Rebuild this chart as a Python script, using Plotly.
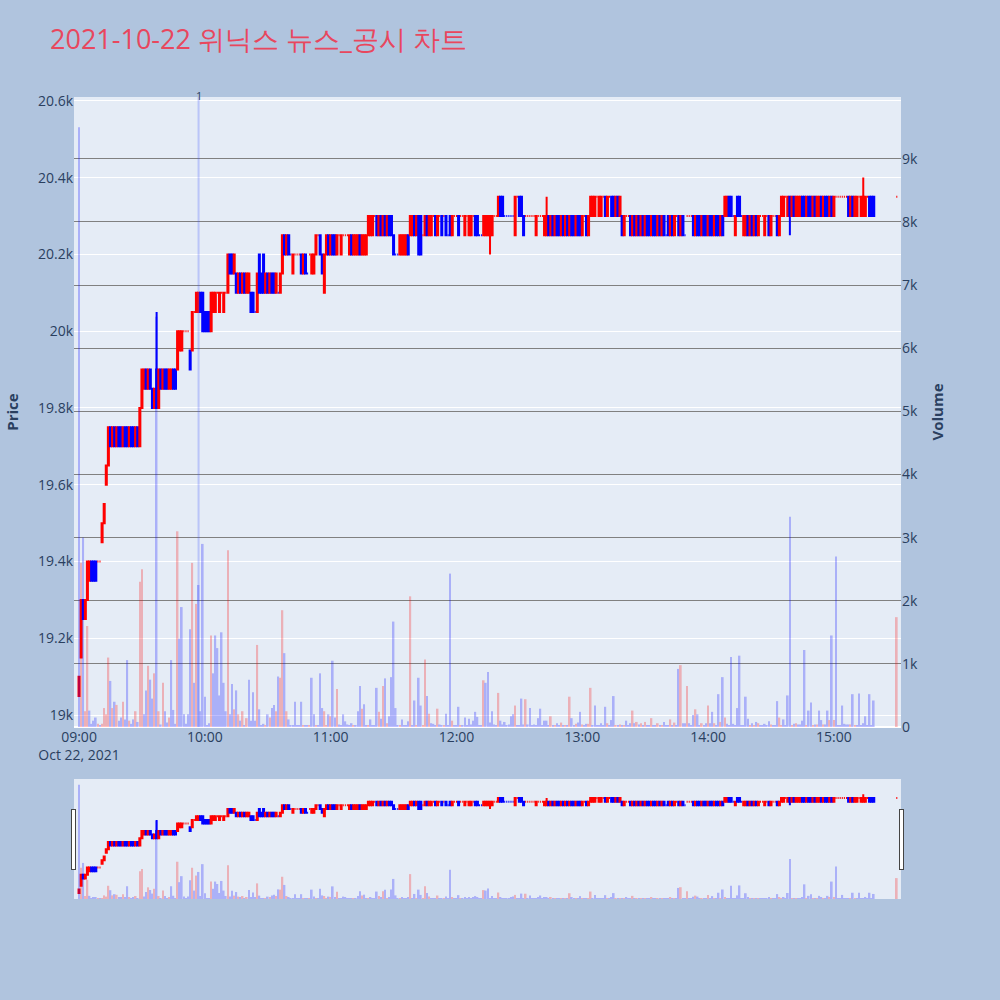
import pandas as pd
import plotly.graph_objects as go

# 1-minute candles, 2021-10-22 (minutes after 09:00)
minutes = list(range(380)) + [390]

opens = [
    19050, 19150, 19300, 19250, 19300, 19350, 19400, 19400, 19400, 19400,
    19400, 19450, 19500, 19600, 19650, 19750, 19700, 19750, 19700, 19750,
    19750, 19700, 19750, 19750, 19700, 19750, 19750, 19700, 19750, 19700,
    19800, 19850, 19900, 19850, 19900, 19850, 19800, 19900, 19800, 19900,
    19850, 19900, 19900, 19850, 19850, 19900, 19900, 19900, 19950, 19950,
    20000, 20000, 20000, 19950, 19950, 20050, 20050, 20050, 20100, 20100,
    20050, 20050, 20050, 20000, 20050, 20050, 20100, 20050, 20100, 20050,
    20100, 20100, 20200, 20200, 20150, 20150, 20100, 20150, 20100, 20150,
    20100, 20100, 20100, 20100, 20050, 20050, 20200, 20150, 20200, 20100,
    20150, 20100, 20150, 20150, 20100, 20100, 20100, 20150, 20250, 20200,
    20250, 20200, 20150, 20200, 20200, 20200, 20200, 20150, 20200, 20150,
    20200, 20150, 20150, 20200, 20250, 20250, 20200, 20100, 20200, 20250,
    20200, 20250, 20250, 20200, 20250, 20200, 20250, 20250, 20250, 20200,
    20250, 20200, 20200, 20200, 20250, 20200, 20200, 20200, 20250, 20250,
    20250, 20300, 20300, 20250, 20300, 20250, 20300, 20250, 20300, 20300,
    20250, 20200, 20200, 20200, 20200, 20200, 20200, 20250, 20250, 20250,
    20300, 20250, 20300, 20300, 20250, 20250, 20300, 20250, 20250, 20300,
    20300, 20250, 20300, 20300, 20300, 20300, 20250, 20300, 20250, 20300,
    20300, 20300, 20300, 20300, 20250, 20300, 20250, 20250, 20300, 20300,
    20300, 20250, 20250, 20250, 20250, 20250, 20250, 20250, 20300, 20300,
    20300, 20350, 20350, 20300, 20300, 20300, 20300, 20300, 20250, 20350,
    20350, 20350, 20300, 20300, 20300, 20300, 20300, 20300, 20250, 20300,
    20300, 20300, 20250, 20250, 20300, 20250, 20300, 20250, 20300, 20300,
    20250, 20300, 20250, 20300, 20250, 20300, 20300, 20250, 20300, 20300,
    20250, 20300, 20300, 20250, 20300, 20300, 20300, 20350, 20300, 20300,
    20350, 20350, 20300, 20350, 20350, 20350, 20300, 20350, 20300, 20300,
    20250, 20300, 20300, 20300, 20250, 20300, 20250, 20300, 20250, 20300,
    20250, 20300, 20300, 20250, 20300, 20300, 20250, 20300, 20250, 20300,
    20250, 20300, 20250, 20300, 20250, 20300, 20300, 20250, 20300, 20250,
    20300, 20300, 20300, 20300, 20250, 20300, 20300, 20250, 20300, 20300,
    20250, 20300, 20300, 20250, 20300, 20300, 20250, 20300, 20300, 20300,
    20350, 20350, 20300, 20250, 20350, 20350, 20300, 20250, 20250, 20300,
    20250, 20300, 20250, 20300, 20250, 20300, 20300, 20250, 20300, 20300,
    20250, 20300, 20300, 20300, 20250, 20300, 20300, 20350, 20300, 20350,
    20300, 20350, 20300, 20300, 20300, 20350, 20350, 20300, 20350, 20350,
    20300, 20350, 20300, 20300, 20350, 20300, 20350, 20350, 20300, 20350,
    20300, 20350, 20350, 20350, 20350, 20350, 20350, 20350, 20300, 20350,
    20300, 20300, 20350, 20300, 20300, 20300, 20350, 20350, 20350, 20350,
    20350,
]

closes = [
    19100, 19300, 19250, 19300, 19400, 19400, 19350, 19350, 19350, 19400,
    19400, 19500, 19550, 19650, 19750, 19700, 19750, 19700, 19750, 19700,
    19700, 19750, 19700, 19700, 19750, 19700, 19700, 19750, 19700, 19800,
    19900, 19900, 19850, 19900, 19850, 19800, 19850, 19800, 19900, 19850,
    19900, 19850, 19850, 19900, 19900, 19850, 19850, 20000, 20000, 20000,
    20000, 20000, 20000, 19900, 20050, 20050, 20100, 20100, 20050, 20000,
    20000, 20000, 20000, 20100, 20100, 20100, 20100, 20100, 20100, 20100,
    20100, 20200, 20150, 20150, 20200, 20100, 20150, 20100, 20150, 20100,
    20150, 20150, 20050, 20050, 20050, 20150, 20100, 20100, 20100, 20150,
    20100, 20150, 20100, 20100, 20150, 20100, 20150, 20250, 20200, 20250,
    20200, 20200, 20200, 20200, 20200, 20200, 20150, 20200, 20150, 20150,
    20200, 20200, 20200, 20250, 20250, 20200, 20150, 20200, 20250, 20200,
    20250, 20200, 20200, 20250, 20250, 20250, 20250, 20250, 20250, 20250,
    20200, 20250, 20250, 20250, 20200, 20250, 20250, 20250, 20300, 20300,
    20300, 20300, 20250, 20300, 20250, 20300, 20250, 20300, 20250, 20250,
    20200, 20200, 20200, 20250, 20250, 20250, 20250, 20200, 20300, 20300,
    20250, 20300, 20200, 20200, 20250, 20300, 20250, 20300, 20300, 20300,
    20250, 20300, 20300, 20250, 20300, 20250, 20250, 20250, 20300, 20300,
    20300, 20250, 20300, 20300, 20300, 20300, 20300, 20300, 20300, 20250,
    20250, 20250, 20250, 20300, 20300, 20300, 20300, 20300, 20300, 20300,
    20350, 20300, 20300, 20300, 20300, 20300, 20300, 20300, 20350, 20350,
    20300, 20300, 20250, 20300, 20300, 20300, 20300, 20300, 20300, 20300,
    20300, 20300, 20300, 20300, 20250, 20300, 20250, 20300, 20250, 20250,
    20300, 20250, 20300, 20250, 20300, 20250, 20250, 20300, 20250, 20250,
    20300, 20300, 20250, 20300, 20350, 20350, 20350, 20350, 20350, 20350,
    20350, 20300, 20350, 20350, 20300, 20300, 20350, 20300, 20350, 20250,
    20300, 20300, 20300, 20250, 20300, 20250, 20300, 20250, 20300, 20250,
    20300, 20250, 20250, 20300, 20250, 20250, 20300, 20250, 20300, 20250,
    20250, 20250, 20300, 20250, 20300, 20300, 20250, 20300, 20250, 20250,
    20300, 20300, 20300, 20250, 20300, 20250, 20250, 20300, 20250, 20250,
    20300, 20250, 20250, 20300, 20250, 20250, 20300, 20250, 20350, 20350,
    20300, 20300, 20300, 20300, 20300, 20300, 20300, 20300, 20300, 20250,
    20300, 20250, 20300, 20250, 20300, 20300, 20300, 20300, 20300, 20250,
    20300, 20300, 20300, 20250, 20300, 20350, 20350, 20350, 20350, 20300,
    20350, 20300, 20350, 20350, 20350, 20300, 20300, 20350, 20300, 20300,
    20350, 20300, 20350, 20350, 20300, 20350, 20300, 20300, 20350, 20300,
    20350, 20350, 20350, 20350, 20350, 20350, 20350, 20300, 20350, 20300,
    20350, 20350, 20350, 20350, 20350, 20350, 20350, 20300, 20300, 20300,
    20350,
]

# wicks that stick out past the body (minute -> price)
wick_highs = {37: 20050, 223: 20350, 374: 20400}
wick_lows = {196: 20200, 339: 20250}

volumes = [
    9500, 2600, 3000, 250, 1600, 260, 50, 100, 150, 50,
    30, 50, 300, 200, 1100, 730, 300, 400, 350, 100,
    150, 400, 120, 1060, 100, 50, 120, 250, 80, 2300,
    2500, 200, 580, 970, 750, 450, 850, 6500, 250, 40,
    700, 250, 70, 150, 1060, 270, 50, 3100, 1400, 1900,
    200, 50, 200, 1550, 2600, 700, 1950, 2250, 250, 2900,
    480, 30, 60, 1450, 850, 1450, 1250, 500, 1500, 700,
    250, 2800, 200, 680, 280, 580, 200, 100, 250, 20,
    140, 750, 100, 550, 100, 1300, 280, 20, 50, 30,
    200, 150, 300, 350, 250, 800, 780, 1850, 1170, 250,
    120, 30, 30, 400, 30, 20, 400, 30, 30, 20,
    30, 780, 200, 30, 30, 850, 300, 250, 30, 200,
    170, 1050, 150, 600, 40, 30, 200, 90, 40, 30,
    60, 30, 30, 250, 650, 290, 360, 30, 30, 120,
    30, 30, 620, 240, 130, 650, 770, 60, 170, 790,
    1670, 300, 30, 30, 120, 30, 30, 90, 2070, 30,
    420, 30, 780, 340, 30, 1070, 490, 210, 60, 50,
    30, 290, 40, 30, 20, 210, 30, 2430, 100, 30,
    20, 320, 30, 20, 150, 20, 130, 40, 100, 240,
    160, 20, 20, 740, 700, 870, 70, 250, 40, 30,
    540, 100, 40, 80, 20, 40, 170, 200, 340, 30,
    30, 450, 40, 440, 40, 300, 20, 40, 20, 140,
    290, 20, 100, 100, 20, 170, 30, 20, 60, 20,
    70, 20, 20, 20, 480, 140, 20, 50, 70, 240,
    40, 20, 50, 50, 620, 30, 340, 20, 20, 60,
    20, 320, 60, 20, 110, 490, 30, 20, 40, 30,
    20, 100, 20, 60, 260, 60, 80, 40, 60, 30,
    80, 20, 30, 140, 30, 30, 60, 20, 30, 80,
    20, 30, 120, 20, 70, 20, 920, 980, 60, 60,
    650, 60, 20, 190, 280, 200, 20, 60, 20, 60,
    340, 60, 240, 60, 20, 520, 80, 790, 150, 50,
    30, 1110, 50, 30, 300, 1130, 20, 30, 480, 130,
    20, 60, 20, 80, 60, 20, 20, 50, 20, 90,
    40, 30, 30, 410, 150, 30, 120, 20, 500, 3330,
    30, 50, 60, 40, 40, 100, 1220, 20, 260, 390,
    20, 40, 40, 260, 110, 40, 40, 260, 110, 1450,
    110, 2700, 20, 20, 340, 50, 40, 40, 40, 520,
    20, 20, 530, 20, 60, 170, 20, 520, 20, 420,
    1740,
]

news_time = "2021-10-22 09:57"
news_label = "1"

times = pd.Timestamp("2021-10-22 09:00") + pd.to_timedelta(minutes, unit="min")
df = pd.DataFrame({"open": opens, "close": closes, "volume": volumes}, index=times)
df["high"] = [wick_highs.get(m, max(o, c)) for m, o, c in zip(minutes, opens, closes)]
df["low"] = [wick_lows.get(m, min(o, c)) for m, o, c in zip(minutes, opens, closes)]

# volume colour: up vs previous close -> red, otherwise blue
prev = df["close"].shift(1)
vol_colors = ["red" if c > p else "blue" for c, p in zip(df["close"], prev)]

fig = go.Figure()
fig.add_trace(go.Candlestick(
    x=df.index, open=df["open"], high=df["high"], low=df["low"], close=df["close"],
    increasing=dict(line=dict(color="red"), fillcolor="red"),
    decreasing=dict(line=dict(color="blue"), fillcolor="blue"),
    name="Price",
))
fig.add_trace(go.Bar(
    x=df.index, y=df["volume"], marker=dict(color=vol_colors, line=dict(width=0)),
    opacity=0.25, yaxis="y2", name="Volume",
))

fig.add_shape(type="line", x0=news_time, x1=news_time, y0=0, y1=1, xref="x", yref="paper",
              line=dict(color="rgba(60,80,255,0.25)", width=2))
fig.add_annotation(x=news_time, y=1, xref="x", yref="paper", text=news_label,
                   showarrow=False, yanchor="bottom", yshift=-8, font=dict(size=11, color="#2a3f5f"))

fig.update_layout(
    width=1000, height=1000,
    title=dict(text="2021-10-22 위닉스 뉴스_공시 차트", font=dict(size=27, color="#e8475e")),
    paper_bgcolor="lightsteelblue",
    showlegend=False,
    margin=dict(l=72, r=99, t=97, b=100),
    xaxis=dict(range=["2021-10-22 08:57:36", "2021-10-22 15:32"],
               rangeslider=dict(visible=True, thickness=0.15), tickfont=dict(size=14)),
    yaxis=dict(title=dict(text="<b>Price</b>", font=dict(size=15)), range=[18969, 20610],
               tickfont=dict(size=14)),
    yaxis2=dict(title=dict(text="<b>Volume</b>", font=dict(size=15)), overlaying="y", side="right",
                range=[0, 9980], gridcolor="grey", showgrid=True, tickfont=dict(size=14)),
)

# drop the page's default body margin so the figure sits at the top-left corner
fig.write_html("out.html", config={"displayModeBar": False},
               post_script="document.body.style.margin = '0';")
